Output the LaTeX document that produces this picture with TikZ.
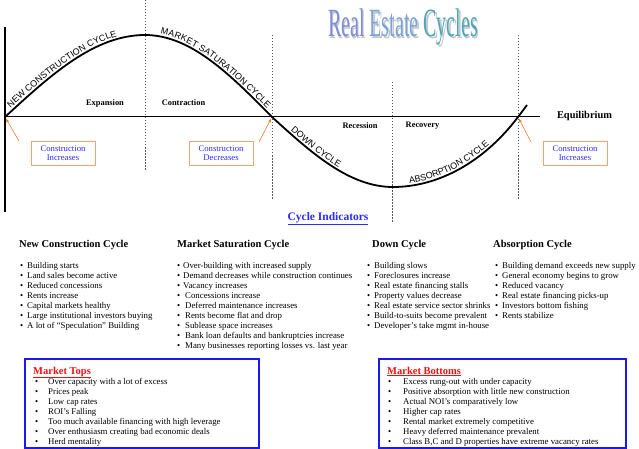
\documentclass[tikz,border=0pt]{standalone}
\usepackage{fontspec}
\setmainfont{Liberation Serif}
\setsansfont{Liberation Sans}
\usepackage{xcolor}
\usetikzlibrary{arrows.meta,decorations.text}

\definecolor{arrorange}{HTML}{F07A2A}
\definecolor{boxorange}{HTML}{F5A36E}
\definecolor{labelblue}{HTML}{2B2BFF}
\definecolor{frameblue}{HTML}{1A1AF0}
\definecolor{topsred}{HTML}{F01010}
\definecolor{titleA}{HTML}{7F8EDC}
\definecolor{titleB}{HTML}{77A4DE}
\definecolor{titleC}{HTML}{4EA6BE}

\newcommand{\curvefont}{\sffamily\fontsize{9}{9}\selectfont}
\newcommand{\itm}[1][7pt]{\makebox[#1][l]{\textbullet}}

\tikzset{
  cycleline/.style={line width=1.8pt},
  axisline/.style={line width=1.5pt},
  eqline/.style={line width=1pt},
  guide/.style={gray!70!black, line width=0.5pt, dash pattern=on 1.5pt off 1.5pt},
  phase/.style={font=\bfseries\fontsize{8.4}{9}\selectfont, inner sep=0pt},
  cyclebox/.style={draw=boxorange, line width=0.8pt, text=labelblue, align=center,
    font=\fontsize{8.7}{9.5}\selectfont, minimum width=64pt, minimum height=24pt, inner sep=0pt},
  marker/.style={arrorange, line width=0.6pt, -{Latex[length=4pt,width=3pt]}, shorten >=1.5pt},
  colhead/.style={font=\bfseries\fontsize{10.5}{12}\selectfont, anchor=base west, inner sep=0pt},
  collist/.style={font=\fontsize{8.8}{10}\selectfont, align=left, anchor=north west, inner sep=0pt},
  bigframe/.style={draw=frameblue, line width=2pt},
  frametitle/.style={text=topsred, font=\bfseries\fontsize{10.5}{12}\selectfont, anchor=base west, inner sep=0pt},
  curvetext/.style={decorate, decoration={text along path, raise=2.5pt, text={|\curvefont|#1}}},
}

\begin{document}
\begin{tikzpicture}[x=1pt, y=1pt]
\useasboundingbox (0,0) rectangle (639,-449);

% title
\node[anchor=base, inner sep=0pt, text=gray!45] (titleshade) at (404.5,-38.5)
  {\scalebox{0.5}[1]{\fontsize{40}{40}\selectfont Real Estate Cycles}};
\node[anchor=base, inner sep=0pt] (title) at (403,-37)
  {\scalebox{0.5}[1]{\fontsize{40}{40}\selectfont\textcolor{titleA}{Real} \textcolor{titleB}{Estate} \textcolor{titleC}{Cycles}}};

% guides
\draw[guide] (145,0) -- (145,-170);
\draw[guide] (272,-35) -- (272,-200);
\draw[guide] (392,-82) -- (392,-222);
\draw[guide] (518,-35) -- (518,-200);

% axes
\coordinate (s0) at (5,-117);
\coordinate (p1) at (145,-35);
\coordinate (c1) at (272,-117);
\coordinate (p2) at (393,-187);
\coordinate (c2) at (518,-117);
\coordinate (e) at (527,-105);

\draw[axisline] (5,-27) -- (5,-212);
\draw[eqline] (s0) -- (540,-117);
\node[font=\bfseries\fontsize{10.4}{12}\selectfont, inner sep=0pt] (equil) at (584.5,-116) {Equilibrium};

% the cycle
\draw[cycleline] (s0) .. controls (50.6,-75) and (94.3,-35) .. (p1)
  .. controls (191,-35) and (230.6,-75) .. (c1)
  .. controls (311.4,-152.9) and (349.2,-187) .. (p2)
  .. controls (438.3,-187) and (484,-162) .. (c2) -- (e);

\path[curvetext={NEW CONSTRUCTION CYCLE}, decoration={text align={left indent=10pt}}]
  (s0) .. controls (50.6,-75) and (94.3,-35) .. (p1);
\path[curvetext={MARKET SATURATION CYCLE}, decoration={text align={left indent=15pt}}]
  (p1) .. controls (191,-35) and (230.6,-75) .. (c1);
\path[curvetext={DOWN CYCLE}, decoration={text align={left indent=23pt}}]
  (c1) .. controls (311.4,-152.9) and (349.2,-187) .. (p2);
\path[curvetext={ABSORPTION CYCLE}, decoration={text align={left indent=17pt}}]
  (p2) .. controls (438.3,-187) and (484,-162) .. (c2);

% phases
\node[phase] (expansion) at (105,-103) {Expansion};
\node[phase] (contraction) at (183.5,-103) {Contraction};
\node[phase] (recession) at (360,-126) {Recession};
\node[phase] (recovery) at (422.5,-126) {Recovery};

% construction markers
\node[cyclebox] (inc1) at (63,-153) {Construction\\Increases};
\node[cyclebox] (dec) at (221,-153) {Construction\\Decreases};
\node[cyclebox] (inc2) at (575,-153) {Construction\\Increases};
\coordinate (t1) at (19,-141);
\coordinate (t2) at (259,-142);
\coordinate (t3) at (531,-142);
\draw[marker] (t1) -- (s0);
\draw[marker] (t2) -- (c1);
\draw[marker] (t3) -- (c2);

% indicators
\node[text=labelblue, font=\bfseries\fontsize{11.5}{13}\selectfont, inner sep=0pt] (indicators) at (328,-219)
  {\underline{Cycle Indicators}};

\node[colhead] (ncchead) at (19,-247) {New Construction Cycle};
\node[colhead] (mschead) at (177,-247) {Market Saturation Cycle};
\node[colhead] (dchead) at (372,-247) {Down Cycle};
\node[colhead] (achead) at (493,-247) {Absorption Cycle};

\node[collist] (ncc) at (20,-262) {\itm Building starts\\ \itm Land sales become active\\
  \itm Reduced concessions\\ \itm Rents increase\\ \itm Capital markets healthy\\
  \itm Large institutional investors buying\\ \itm A lot of “Speculation” Building};
\node[collist] (msc) at (177,-262) {\itm[6pt]Over-building with increased supply\\
  \itm[6pt]Demand decreases while construction continues\\ \itm[6pt]Vacancy increases\\
  \itm[8pt]Concessions increase\\ \itm[8pt]Deferred maintenance increases\\
  \itm[8pt]Rents become flat and drop\\ \itm[8pt]Sublease space increases\\
  \itm[8pt]Bank loan defaults and bankruptcies increase\\
  \itm[8pt]Many businesses reporting losses vs. last year};
\node[collist] (dc) at (367,-262) {\itm Building slows\\ \itm Foreclosures increase\\
  \itm Real estate financing stalls\\ \itm Property values decrease\\
  \itm Real estate service sector shrinks\\ \itm Build-to-suits become prevalent\\
  \itm Developer’s take mgmt in-house};
\node[collist] (ac) at (495,-262) {\itm Building demand exceeds new supply\\
  \itm General economy begins to grow\\ \itm Reduced vacancy\\
  \itm Real estate financing picks-up\\ \itm Investors bottom fishing\\ \itm Rents stabilize};

% market tops / bottoms
\draw[bigframe] (25,-359) rectangle (259,-448);
\node[frametitle] (topstitle) at (33,-374) {\underline{Market Tops}};
\node[collist] (tops) at (35,-378) {\itm[13pt]Over capacity with a lot of excess\\
  \itm[13pt]Prices peak\\ \itm[13pt]Low cap rates\\ \itm[13pt]ROI’s Falling\\
  \itm[13pt]Too much available financing with high leverage\\
  \itm[13pt]Over enthusiasm creating bad economic deals\\ \itm[13pt]Herd mentality};

\draw[bigframe] (379,-359) rectangle (626,-448);
\node[frametitle] (bottomstitle) at (387,-374) {\underline{Market Bottoms}};
\node[collist] (bottoms) at (388,-378) {\itm[15pt]Excess rung-out with under capacity\\
  \itm[15pt]Positive absorption with little new construction\\
  \itm[15pt]Actual NOI’s comparatively low\\ \itm[15pt]Higher cap rates\\
  \itm[15pt]Rental market extremely competitive\\
  \itm[15pt]Heavy deferred maintenance prevalent\\
  \itm[15pt]Class B,C and D properties have extreme vacancy rates};
\end{tikzpicture}
\end{document}
